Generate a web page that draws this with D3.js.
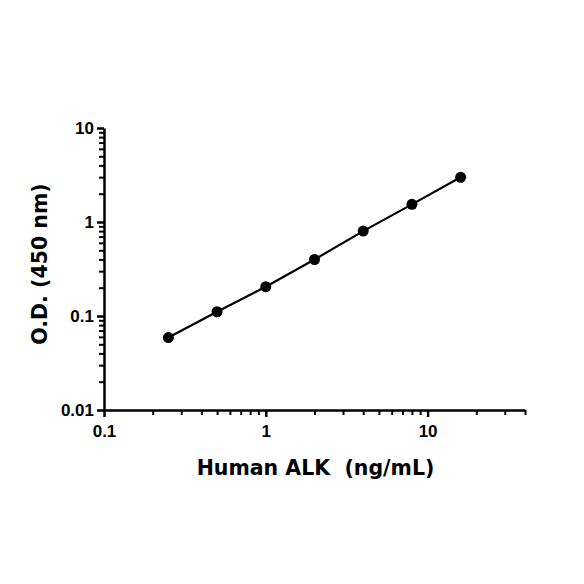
<!DOCTYPE html>
<html>
<head>
<meta charset="utf-8">
<script src="https://cdn.jsdelivr.net/npm/d3@7"></script>
<style>
  body { margin: 0; background: #fff; }
  .tick text { font-family: "Liberation Sans", Arial, sans-serif; font-weight: bold; font-size: 17px; fill: #000; }
  .title { font-family: "DejaVu Sans", sans-serif; font-weight: bold; font-size: 20.5px; fill: #000; }
</style>
</head>
<body>
<svg id="chart" width="584" height="584"></svg>
<script>
// standard curve points
var concentration = [0.25, 0.5, 1, 2, 4, 8, 16];
var od = [0.059, 0.111, 0.205, 0.399, 0.80, 1.54, 2.99];

var xMajor = [0.1, 1, 10];
var xMinor = [0.2, 0.3, 0.4, 0.5, 0.6, 0.7, 0.8, 0.9, 2, 3, 4, 5, 6, 7, 8, 9, 20, 30, 40];
var yMajor = [0.01, 0.1, 1, 10];
var yMinor = [0.02, 0.03, 0.04, 0.05, 0.06, 0.07, 0.08, 0.09,
              0.2, 0.3, 0.4, 0.5, 0.6, 0.7, 0.8, 0.9,
              2, 3, 4, 5, 6, 7, 8, 9];

var plotL = 104, plotT = 128, plotR = 525, plotB = 410;

var svg = d3.select("#chart");

var x = d3.scaleLog().domain([0.1, 40]).range([plotL, plotR]);
var y = d3.scaleLog().domain([0.01, 10]).range([plotB, plotT]);

var fmt = function(d){ return String(d); };

// x axis
svg.append("g")
  .attr("transform", "translate(0," + plotB + ")")
  .call(d3.axisBottom(x).tickValues(xMinor).tickSize(5).tickFormat(""))
  .call(function(g){ g.select(".domain").remove(); })
  .selectAll("line").attr("stroke", "#000").attr("stroke-width", 2);

var xa = svg.append("g")
  .attr("transform", "translate(0," + plotB + ")")
  .call(d3.axisBottom(x).tickValues(xMajor).tickSize(7).tickSizeOuter(0).tickPadding(8).tickFormat(fmt));
xa.select(".domain").attr("stroke", "#000").attr("stroke-width", 2.5);
xa.selectAll("line").attr("stroke", "#000").attr("stroke-width", 2.5);

// y axis
svg.append("g")
  .attr("transform", "translate(" + plotL + ",0)")
  .call(d3.axisLeft(y).tickValues(yMinor).tickSize(5).tickFormat(""))
  .call(function(g){ g.select(".domain").remove(); })
  .selectAll("line").attr("stroke", "#000").attr("stroke-width", 2);

var ya = svg.append("g")
  .attr("transform", "translate(" + plotL + ",0)")
  .call(d3.axisLeft(y).tickValues(yMajor).tickSize(7).tickSizeOuter(0).tickPadding(3).tickFormat(fmt));
ya.select(".domain").attr("stroke", "#000").attr("stroke-width", 2.5);
ya.selectAll("line").attr("stroke", "#000").attr("stroke-width", 2.5);

// titles
svg.append("text").attr("class", "title")
  .attr("x", (plotL + plotR) / 2 + 1).attr("y", 475)
  .attr("text-anchor", "middle")
  .attr("xml:space", "preserve")
  .text("Human ALK  (ng/mL)");

svg.append("text").attr("class", "title")
  .attr("transform", "translate(47,264) rotate(-90)")
  .attr("text-anchor", "middle")
  .text("O.D. (450 nm)");

// curve
var pts = concentration.map(function(c, i){ return [c, od[i]]; });

svg.append("path")
  .datum(pts)
  .attr("fill", "none")
  .attr("stroke", "#000")
  .attr("stroke-width", 2.2)
  .attr("d", d3.line().x(function(d){ return x(d[0]); }).y(function(d){ return y(d[1]); }));

svg.selectAll("circle.pt")
  .data(pts)
  .enter().append("circle")
  .attr("class", "pt")
  .attr("cx", function(d){ return x(d[0]); })
  .attr("cy", function(d){ return y(d[1]); })
  .attr("r", 5.5)
  .attr("fill", "#000");
</script>
</body>
</html>
